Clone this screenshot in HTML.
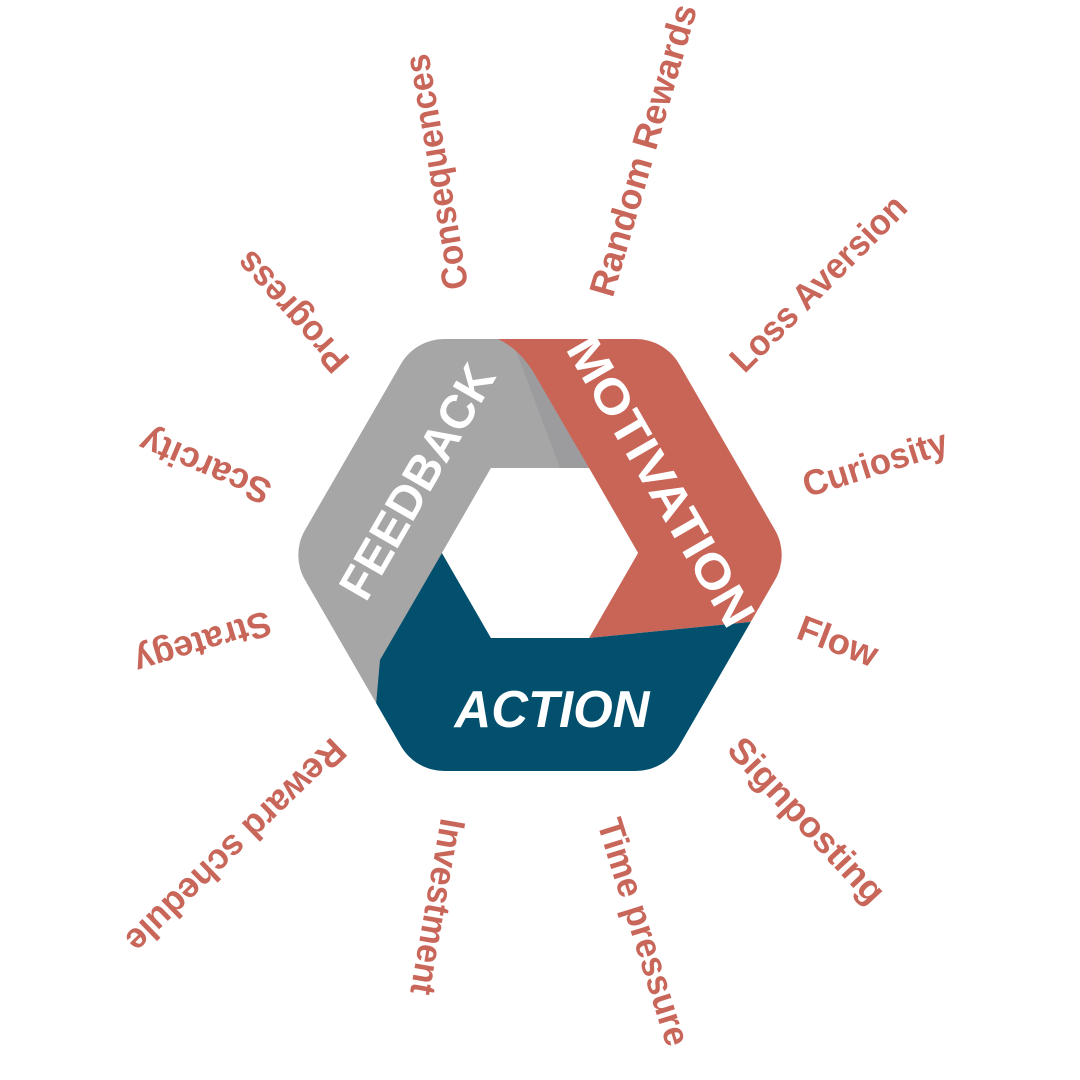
<!DOCTYPE html>
<html><head><meta charset="utf-8"><style>
html,body{margin:0;padding:0;background:#fff}
svg{display:block}
.l{font-family:"Liberation Sans",sans-serif;font-weight:bold;font-size:36px;fill:#c9665a}
.h{font-family:"Liberation Sans",sans-serif;font-weight:bold;fill:#fff}
</style></head><body>
<svg width="1080" height="1080" viewBox="0 0 1080 1080" xmlns="http://www.w3.org/2000/svg">
<defs>
<mask id="m">
<polygon points="731.7,555 635.8,389 444.2,389 348.3,555 444.2,721 635.8,721" fill="#fff" stroke="#fff" stroke-width="100" stroke-linejoin="round"/>
</mask>
</defs>
<g mask="url(#m)">
<polygon points="250,560 400,290 500,290 589,468 491,468 442,553 400,720 270,720" fill="#a6a6a6"/>
<polygon points="512,340 535,375 589,468 560,468" fill="#9c9b9e"/>
<path d="M470,325 L700,290 L830,555 L750,622 L589,638 L638,553 L589,468 L535,375 Q518,345 490,336 Z" fill="#c96557"/>
<polygon points="442,553 380,660 376,705 398,755 420,810 700,810 800,600 750,622 589,638 491,638" fill="#02506d"/>
</g>
<polygon points="638,553 589,468 491,468 442,553 491,638 589,638" fill="#fff"/>

<text class="h" font-size="48" transform="translate(418,482) rotate(-60)" text-anchor="middle" dominant-baseline="central" textLength="262" lengthAdjust="spacingAndGlyphs">FEEDBACK</text>
<text class="h" font-size="48" transform="translate(660,482) rotate(60)" text-anchor="middle" dominant-baseline="central" textLength="326" lengthAdjust="spacingAndGlyphs">MOTIVATION</text>
<text class="h" font-size="52" font-style="italic" transform="translate(552,710)" text-anchor="middle" dominant-baseline="central" textLength="195" lengthAdjust="spacingAndGlyphs">ACTION</text>

<g class="l" text-anchor="middle" dominant-baseline="central">
<text transform="translate(436,172) rotate(-99.7)" textLength="238" lengthAdjust="spacingAndGlyphs">Consequences</text>
<text transform="translate(643,150) rotate(-73.7)" textLength="302" lengthAdjust="spacingAndGlyphs">Random Rewards</text>
<text transform="translate(818,283) rotate(-45)" textLength="233" lengthAdjust="spacingAndGlyphs">Loss Aversion</text>
<text transform="translate(875,463) rotate(-17.5)" textLength="150" lengthAdjust="spacingAndGlyphs">Curiosity</text>
<text transform="translate(838,641) rotate(21)" textLength="83" lengthAdjust="spacingAndGlyphs">Flow</text>
<text transform="translate(807,820) rotate(47)" textLength="212" lengthAdjust="spacingAndGlyphs">Signposting</text>
<text transform="translate(644,932) rotate(72.7)" textLength="236" lengthAdjust="spacingAndGlyphs">Time pressure</text>
<text transform="translate(438,907) rotate(100)" textLength="178" lengthAdjust="spacingAndGlyphs">Investment</text>
<text transform="translate(236,846) rotate(136)" textLength="290" lengthAdjust="spacingAndGlyphs">Reward schedule</text>
<text transform="translate(203,643) rotate(163)" textLength="141" lengthAdjust="spacingAndGlyphs">Strategy</text>
<text transform="translate(205,467) rotate(203)" textLength="139" lengthAdjust="spacingAndGlyphs">Scarcity</text>
<text transform="translate(292,312) rotate(228)" textLength="149" lengthAdjust="spacingAndGlyphs">Progress</text>
</g>
</svg>
</body></html>
